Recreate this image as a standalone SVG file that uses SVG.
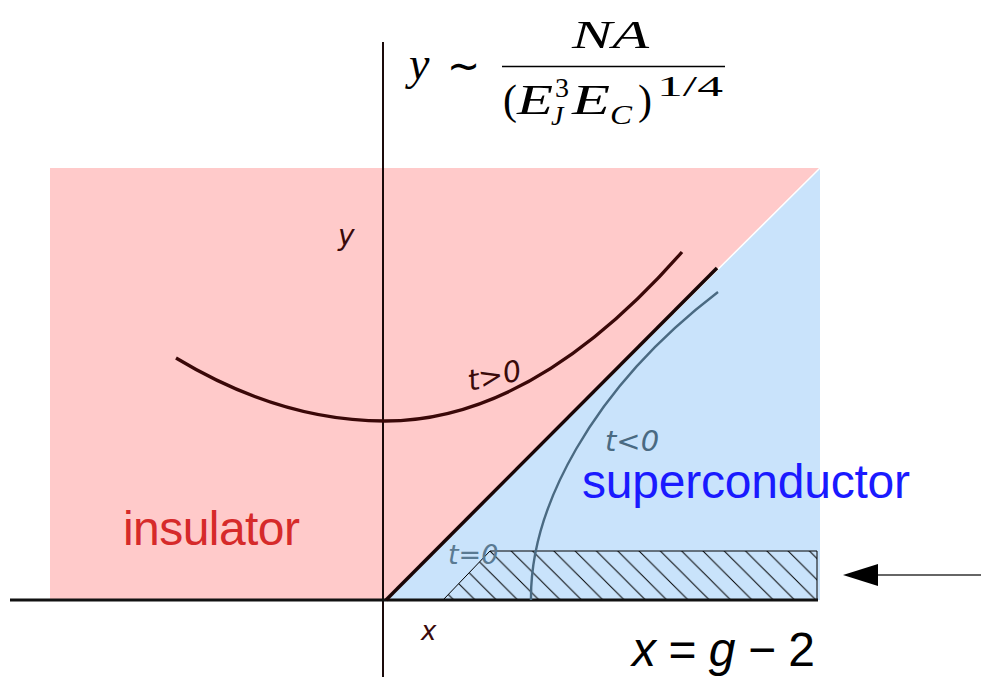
<svg xmlns="http://www.w3.org/2000/svg" width="981" height="677" viewBox="0 0 981 677">
<defs>
<style>
.hand{font-family:"DejaVu Sans","Liberation Sans",sans-serif;font-style:italic;}
.lbl{font-family:"Liberation Sans",Arial,sans-serif;font-size:48px;}
.math{font-family:"Liberation Serif","Times New Roman",serif;font-style:italic;fill:#000;}
.rm{font-family:"Liberation Serif","Times New Roman",serif;font-style:normal;fill:#000;}
</style>
<pattern id="hatch" patternUnits="userSpaceOnUse" x="490" y="551" width="21.3" height="21.3">
<path d="M0,0 L21.3,21.3 M-2,19.3 L2,23.3 M19.3,-2 L23.3,2" stroke="#000" stroke-width="1"/>
</pattern>
</defs>
<rect width="981" height="677" fill="#fff"/>
<g id="regions">
<rect id="insulator-region" x="50" y="168" width="770" height="432" fill="#ffcaca"/>
<polygon id="superconductor-region" points="385,600 820,168 820,600" fill="#c9e3fb"/>
<line x1="385" y1="600" x2="820" y2="168" stroke="#fff" stroke-width="1.5"/>
<polygon id="hatched" points="443,600 490,551 817,551 817,600" fill="url(#hatch)" stroke="#000" stroke-width="1"/>
</g>
<g id="axes">
<line x1="383" y1="42" x2="383" y2="677" stroke="#1a0a0a" stroke-width="2"/>
<line x1="10" y1="600" x2="818" y2="600" stroke="#111" stroke-width="3"/>
<line x1="386" y1="600" x2="717" y2="268" stroke="#1a0505" stroke-width="3.5"/>
</g>
<g id="curves" fill="none">
<path d="M176,358 Q280.5,421 385,421 Q533.5,421 682,252" stroke="#3a0808" stroke-width="3.3"/>
<path d="M531,600 C530,510 590,390 718,292" stroke="#4a6a82" stroke-width="2.4"/>
</g>
<g id="hand-labels">
<text class="hand" x="338" y="245" font-size="28" fill="#3a0a0a">y</text>
<text class="hand" x="421" y="640" font-size="26" fill="#3a0a0a">x</text>
<text class="hand" x="470" y="391" font-size="29" fill="#3a0a0a" transform="rotate(-12 470 391)">t&gt;0</text>
<text class="hand" x="605" y="451" font-size="29" fill="#4a6a82">t&lt;0</text>
<text class="hand" x="448" y="564" font-size="27" fill="#5a7a92">t=0</text>
</g>
<g id="labels">
<text class="lbl" x="123" y="545" fill="#d62a2a" textLength="177">insulator</text>
<text class="lbl" x="582" y="498" fill="#1a1aff" textLength="328">superconductor</text>
<text class="lbl" x="632" y="666" fill="#000" font-size="47" textLength="183"><tspan font-style="italic">x</tspan> = <tspan font-style="italic">g</tspan> − 2</text>
</g>
<g id="formula">
<text class="math" x="409" y="79" font-size="46">y</text>
<text class="rm" x="447" y="80" font-size="42" textLength="33" lengthAdjust="spacingAndGlyphs">∼</text>
<text class="math" x="572" y="48" font-size="40" textLength="77" lengthAdjust="spacingAndGlyphs">NA</text>
<line x1="502" y1="66.5" x2="725" y2="66.5" stroke="#000" stroke-width="1.6"/>
<text class="rm" x="503" y="114" font-size="42">(</text>
<text class="math" x="517" y="114" font-size="42" textLength="36" lengthAdjust="spacingAndGlyphs">E</text>
<text class="rm" x="555" y="97" font-size="28">3</text>
<text class="math" x="551" y="125" font-size="28">J</text>
<text class="math" x="572" y="114" font-size="42" textLength="38" lengthAdjust="spacingAndGlyphs">E</text>
<text class="math" x="610" y="124" font-size="28" textLength="22" lengthAdjust="spacingAndGlyphs">C</text>
<text class="rm" x="638" y="114" font-size="42">)</text>
<text class="rm" x="657" y="96" font-size="30" textLength="66" lengthAdjust="spacingAndGlyphs">1/4</text>
</g>
<g id="connectors">
<line x1="981" y1="575" x2="877" y2="575" stroke="#333" stroke-width="1.5"/>
<path d="M843,575 L878,564 L878,586 Z" fill="#000"/>
</g>
</svg>
